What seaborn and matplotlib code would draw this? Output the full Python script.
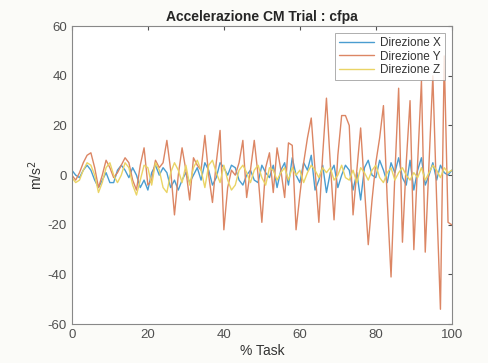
import numpy as np
import pandas as pd
import matplotlib
matplotlib.use("Agg")
import matplotlib.pyplot as plt
import seaborn as sns

task = list(range(0, 101))

dir_x = [2, 0, -1, 2, 4, 2, -2, -5, -2, 1, -3, -3, 2, 4, 2, -1, 3, 0, -5, -2,
         -6, 1, 4, 0, 3, 1, -5, -2, -6, -2, 1, -3, 0, 3, -2, 5, 2, -4, -1, 5,
         3, 0, 4, 3, -2, -4, 0, 2, -2, -3, 4, 1, -1, 4, -5, 2, 5, -4, 7, 0,
         -3, 5, 2, 8, -6, -2, 4, -7, 1, 4, -5, 0, 4, 2, -6, 1, -10, 3, 6, 0,
         -1, 6, 2, -3, 5, 1, 7, -1, -4, 6, -6, 2, 7, -4, 0, 5, -2, 4, 1, 0, 2]

dir_y = [0, -2, 1, 5, 8, 9, 3, -5, 0, 6, 3, -1, 1, 4, 7, 5, -2, -6, 4, 11,
         -4, -2, 6, 3, 5, 14, 2, -16, 0, 11, 2, -10, 7, 4, 2, 16, 0, -11, 5, 18,
         -22, -5, 2, 0, 5, 14, -9, 2, 14, 0, -19, 3, 9, -7, 11, 2, -9, 13, 12, -22,
         -8, 5, 15, 23, 2, -19, 8, 31, 5, -18, 8, 24, 24, 20, -16, 2, 19, -5, -28, -10,
         5, 15, 28, -10, -41, 0, 35, -27, 5, 30, -30, 5, 38, -31, 5, 40, -10, -54, 48, -19, -20]

dir_z = [-1, -3, -2, 2, 5, 4, 0, -7, -3, 3, 5, 0, -3, 0, 5, 3, -4, -8, -2, 4,
         3, -4, 5, 2, -5, -7, 1, 5, 2, -3, 4, -4, 3, 6, 2, -5, 4, 6, 1, -3,
         4, -2, -6, -4, 2, 4, 1, -3, 2, 4, -1, -4, 3, 2, -2, 1, 3, -2, 3, 0,
         2, -3, 1, 4, 2, -1, 3, 1, 3, -2, 0, 4, -1, -2, 2, -3, 3, 1, -2, 2,
         4, -1, -3, 1, 3, -2, 1, 3, 0, -2, 1, -1, 3, -2, 1, 4, 2, -1, 3, 1, 2]

series_names = ["Direzione X", "Direzione Y", "Direzione Z"]
colors = ["#4a9dd0", "#dc8664", "#ead465"]

df = pd.DataFrame({
    "task": task * 3,
    "acc": dir_x + dir_y + dir_z,
    "serie": [series_names[0]] * len(task) + [series_names[1]] * len(task) + [series_names[2]] * len(task),
})

sns.set_style("white")
plt.rcParams["font.family"] = ["Liberation Sans", "DejaVu Sans"]
plt.rcParams["axes.unicode_minus"] = False

fig = plt.figure(figsize=(4.89, 3.63), dpi=100, facecolor="#fbfbf8")
ax = fig.add_axes([0.147, 0.107, 0.777, 0.821])
ax.set_facecolor("white")

sns.lineplot(data=df, x="task", y="acc", hue="serie", palette=colors,
             linewidth=1.0, ax=ax, legend=True)

ax.set_xlim(0, 100)
ax.set_ylim(-60, 60)
ax.set_xticks([0, 20, 40, 60, 80, 100])
ax.set_yticks([-60, -40, -20, 0, 20, 40, 60])
ax.tick_params(direction="in", length=3, labelsize=9.5, colors="#505050",
               top=True, right=True, labeltop=False, labelright=False)
for s in ax.spines.values():
    s.set_color("#888888")
    s.set_linewidth(0.8)

ax.set_xlabel("% Task", fontsize=10, color="#333333", labelpad=2)
ax.set_ylabel("m/s$^2$", fontsize=10, color="#333333", labelpad=2)
ax.set_title("Accelerazione CM Trial : cfpa", fontsize=10, fontweight="bold", pad=4)

leg = ax.legend(loc="upper right", fontsize=8.5, frameon=True, fancybox=False,
                edgecolor="#999999", handlelength=3.0, borderpad=0.3,
                labelspacing=0.15, borderaxespad=0.6, handletextpad=0.5)
leg.get_frame().set_linewidth(0.7)
for t in leg.get_texts():
    t.set_color("#333333")

fig.savefig("out.png", dpi=100, facecolor=fig.get_facecolor())
